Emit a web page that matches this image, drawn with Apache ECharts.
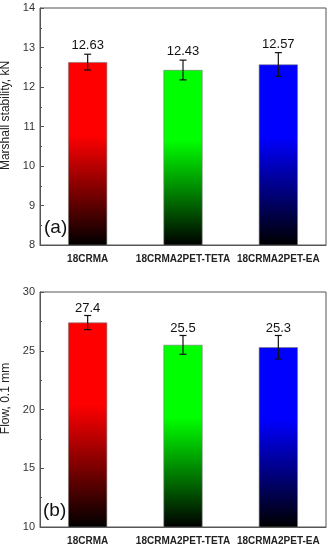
<!DOCTYPE html>
<html>
<head>
<meta charset="utf-8">
<script src="https://cdn.jsdelivr.net/npm/echarts@6/dist/echarts.min.js"></script>
<style>
html,body{margin:0;padding:0;background:#fff;}
#chart{width:332px;height:550px;}
</style>
</head>
<body>
<div id="chart"></div>
<script>
// ---- data ----
var categories = ['18CRMA', '18CRMA2PET-TETA', '18CRMA2PET-EA'];
var stability = [12.63, 12.43, 12.57];
var stabilityErr = [0.2, 0.25, 0.3];
var flow = [27.4, 25.5, 25.3];
var flowErr = [0.6, 0.8, 1.0];
var stabilityTicks = [8, 9, 10, 11, 12, 13, 14];
var flowTicks = [10, 15, 20, 25, 30];
var barColors = ['#ff0000', '#00ff00', '#0000ff'];

function grad(c) {
  return new echarts.graphic.LinearGradient(0, 0, 0, 1, [
    {offset: 0, color: c},
    {offset: 0.4, color: c},
    {offset: 1, color: '#000000'}
  ]);
}

var chart = echarts.init(document.getElementById('chart'), null, {renderer: 'canvas'});

function barData(vals) {
  return vals.map(function (v, i) {
    return {value: v, itemStyle: {color: grad(barColors[i])}};
  });
}
function errData(vals, errs) {
  return vals.map(function (v, i) { return [i, v, errs[i]]; });
}
function errRender(gap) {
  return function (params, api) {
    var x = api.value(0), v = api.value(1), e = api.value(2);
    var hi = api.coord([x, v + e]);
    var lo = api.coord([x, v - e]);
    var cap = 3.5;
    var st = {stroke: '#111', lineWidth: 1.2};
    return {
      type: 'group',
      children: [
        {type: 'line', shape: {x1: hi[0], y1: hi[1], x2: lo[0], y2: lo[1]}, style: st},
        {type: 'line', shape: {x1: hi[0] - cap, y1: hi[1], x2: hi[0] + cap, y2: hi[1]}, style: st},
        {type: 'line', shape: {x1: lo[0] - cap, y1: lo[1], x2: lo[0] + cap, y2: lo[1]}, style: st},
        {type: 'text', x: hi[0], y: hi[1] - gap, style: {
          text: String(v), fill: '#111', font: '13px Arial, "Liberation Sans", sans-serif',
          align: 'center', verticalAlign: 'bottom'
        }}
      ]
    };
  };
}

var axisLabelStyle = {color: '#333', fontSize: 11, fontFamily: 'Arial, "Liberation Sans", sans-serif', margin: 5};
function yAxis(idx, min, max, interval, name) {
  return {
    gridIndex: idx, type: 'value', min: min, max: max, interval: interval,
    name: name, nameLocation: 'middle', nameGap: 24,
    nameTextStyle: {color: '#222', fontSize: 12, fontFamily: 'Arial, "Liberation Sans", sans-serif', padding: [0, 0, 0, 22]},
    axisLine: {show: true, lineStyle: {color: '#555', width: 1}},
    axisTick: {show: true, inside: true, length: 4, lineStyle: {color: '#555'}},
    minorTick: {show: true, splitNumber: 2, length: 2, lineStyle: {color: '#555'}},
    splitLine: {show: false},
    axisLabel: axisLabelStyle
  };
}
function xAxis(idx) {
  return {
    gridIndex: idx, type: 'category', data: categories,
    axisLine: {show: true, lineStyle: {color: '#555', width: 1}},
    axisTick: {show: false},
    axisLabel: {color: '#222', fontSize: 10, fontWeight: 'bold', fontFamily: 'Arial, "Liberation Sans", sans-serif', margin: 9, interval: 0}
  };
}

chart.setOption({
  animation: false,
  grid: [
    {left: 40, right: 6, top: 8, height: 237, show: true, borderColor: '#555', borderWidth: 1, backgroundColor: '#fff', outerBoundsMode: 'none', containLabel: false},
    {left: 40, right: 6, top: 292, height: 235, show: true, borderColor: '#555', borderWidth: 1, backgroundColor: '#fff', outerBoundsMode: 'none', containLabel: false}
  ],
  xAxis: [xAxis(0), xAxis(1)],
  yAxis: [
    yAxis(0, stabilityTicks[0], stabilityTicks[stabilityTicks.length - 1], 1, 'Marshall stability, kN'),
    yAxis(1, flowTicks[0], flowTicks[flowTicks.length - 1], 5, 'Flow, 0.1 mm')
  ],
  series: [
    {type: 'bar', xAxisIndex: 0, yAxisIndex: 0, data: barData(stability), barWidth: 39,
     itemStyle: {borderColor: '#777', borderWidth: 0.6}},
    {type: 'custom', xAxisIndex: 0, yAxisIndex: 0, data: errData(stability, stabilityErr), renderItem: errRender(2), z: 5},
    {type: 'bar', xAxisIndex: 1, yAxisIndex: 1, data: barData(flow), barWidth: 39,
     itemStyle: {borderColor: '#777', borderWidth: 0.6}},
    {type: 'custom', xAxisIndex: 1, yAxisIndex: 1, data: errData(flow, flowErr), renderItem: errRender(1), z: 5}
  ],
  graphic: [
    {type: 'text', left: 44, top: 218, style: {text: '(a)', fill: '#111', font: '19px Arial, "Liberation Sans", sans-serif'}},
    {type: 'text', left: 43, top: 501, style: {text: '(b)', fill: '#111', font: '19px Arial, "Liberation Sans", sans-serif'}}
  ]
});
</script>
</body>
</html>
